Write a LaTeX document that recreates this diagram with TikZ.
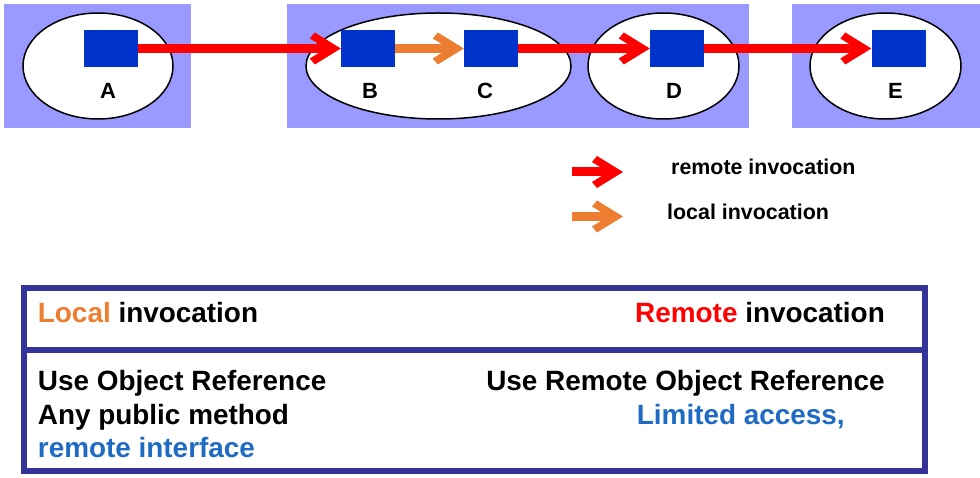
\documentclass[tikz,border=0pt]{standalone}
\usepackage{fontspec}
\setmainfont{Liberation Sans}
\usetikzlibrary{arrows.meta}
\definecolor{bgpurple}{HTML}{9999FF}
\definecolor{sqblue}{HTML}{0033CC}
\definecolor{locorange}{HTML}{ED7D31}
\definecolor{navy}{HTML}{333399}
\definecolor{txtblue}{HTML}{1F6BC4}
\pgfdeclarearrow{
  name = Chev,
  parameters = {},
  setup code = {
    \pgfarrowssettipend{0pt}
    \pgfarrowssetlineend{-14pt}
    \pgfarrowssetvisualbackend{-31pt}
    \pgfarrowssetbackend{-31pt}
    \pgfarrowshullpoint{0pt}{0pt}
    \pgfarrowshullpoint{-26pt}{16pt}
    \pgfarrowshullpoint{-31pt}{10pt}
    \pgfarrowshullpoint{-31pt}{-10pt}
    \pgfarrowshullpoint{-26pt}{-16pt}
  },
  drawing code = {
    \pgfpathmoveto{\pgfpoint{0pt}{0pt}}
    \pgfpathlineto{\pgfpoint{-26pt}{16pt}}
    \pgfpathlineto{\pgfpoint{-31pt}{10pt}}
    \pgfpathlineto{\pgfpoint{-14.75pt}{0pt}}
    \pgfpathlineto{\pgfpoint{-31pt}{-10pt}}
    \pgfpathlineto{\pgfpoint{-26pt}{-16pt}}
    \pgfpathclose
    \pgfusepathqfill
  }
}
\tikzset{
  sq/.style={rectangle, fill=sqblue, minimum width=54pt, minimum height=37pt, inner sep=0pt},
  lbl/.style={anchor=base, inner sep=0pt, font=\bfseries\fontsize{22}{24}\selectfont},
  remarrow/.style={color=red, line width=9pt, -{Chev}},
  locarrow/.style={color=locorange, line width=9pt, -{Chev}},
  leg/.style={anchor=base west, inner sep=0pt, font=\bfseries\fontsize{21.4}{24}\selectfont},
  big/.style={inner sep=0pt, font=\bfseries\fontsize{27.9}{30}\selectfont},
  proc/.style={draw=black, line width=1.5pt, fill=white},
}
\begin{document}
\begin{tikzpicture}[x=1pt, y=-1pt]
\useasboundingbox (0,0) rectangle (980,478);
% background panels
\fill[bgpurple] (4,4) rectangle (191,128);
\fill[bgpurple] (287,4) rectangle (749,128);
\fill[bgpurple] (792,4) rectangle (980,128);
% process ellipses
\draw[proc] (98,66) ellipse [x radius=75, y radius=53];
\draw[proc] (438.5,66) ellipse [x radius=132.5, y radius=53];
\draw[proc] (663.5,66) ellipse [x radius=75.5, y radius=53];
\draw[proc] (885.5,66) ellipse [x radius=75.5, y radius=53];
% objects
\node[sq] (a) at (111,48.5) {};
\node[sq] (b) at (368,48.5) {};
\node[sq] (c) at (491,48.5) {};
\node[sq] (d) at (677,48.5) {};
\node[sq] (e) at (898.5,48.5) {};
\node[lbl] (la) at (108,99) {A};
\node[lbl] (lb) at (370,99) {B};
\node[lbl] (lc) at (485,99) {C};
\node[lbl] (ld) at (674,99) {D};
\node[lbl] (le) at (895.5,99) {E};
% invocations
\draw[remarrow] (a.east) -- (b.west);
\draw[locarrow] (b.east) -- (c.west);
\draw[remarrow] (c.east) -- (d.west);
\draw[remarrow] (d.east) -- (e.west);
% legend
\coordinate (r0) at (572,172);
\coordinate (r1) at (623,172);
\coordinate (o0) at (572,216.5);
\coordinate (o1) at (623,216.5);
\draw[remarrow] (r0) -- (r1);
\draw[locarrow] (o0) -- (o1);
\node[leg] (legr) at (671,175) {remote invocation};
\node[leg] (legl) at (667,220) {local invocation};
% table
\draw[navy, line width=6pt] (23.5,288) rectangle (925,471);
\draw[navy, line width=6pt] (23.5,349.5) -- (925,349.5);
\node[big, anchor=base west] (t1) at (37.7,323) {\textcolor{locorange}{Local} invocation};
\node[big, anchor=base east] (t2) at (885,323) {\textcolor{red}{Remote} invocation};
\node[big, anchor=base west] (t3) at (37.7,390) {Use Object Reference};
\node[big, anchor=base west] (t4) at (37.7,424) {Any public method};
\node[big, anchor=base west, text=txtblue] (t5) at (37.7,457) {remote interface};
\node[big, anchor=base east] (t6) at (885,390) {Use Remote Object Reference};
\node[big, anchor=base west, text=txtblue] (t7) at (636.7,424) {Limited access,};
\end{tikzpicture}
\end{document}
